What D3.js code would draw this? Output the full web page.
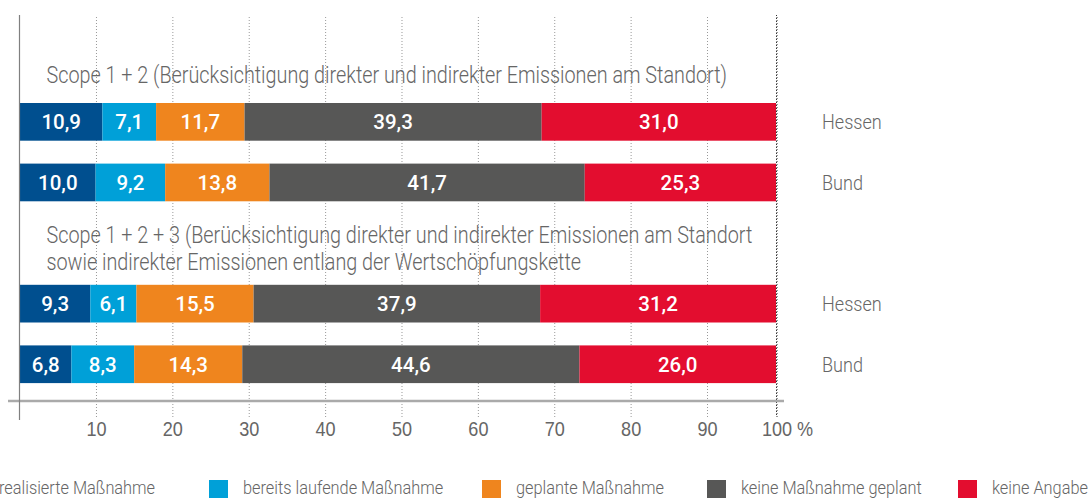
<!DOCTYPE html>
<html>
<head>
<meta charset="utf-8">
<script src="https://cdn.jsdelivr.net/npm/d3@7"></script>
<style>
  body { margin: 0; background: #fff; }
  svg { display: block; font-family: Roboto, "Open Sans", sans-serif; }
  .light { font-weight: 300; fill: #666; }
</style>
</head>
<body>
<svg id="chart" width="1089" height="498"></svg>
<script>
// data
const categories = ['realisierte Maßnahme', 'bereits laufende Maßnahme', 'geplante Maßnahme', 'keine Maßnahme geplant', 'keine Angabe'];
const colors = ['#004f8f', '#00a0d8', '#ef851e', '#575756', '#e30d2f'];
const rowLabels = ['Hessen', 'Bund', 'Hessen', 'Bund'];
const groupTitles = [
  ['Scope 1 + 2 (Berücksichtigung direkter und indirekter Emissionen am Standort)'],
  ['Scope 1 + 2 + 3 (Berücksichtigung direkter und indirekter Emissionen am Standort',
   'sowie indirekter Emissionen entlang der Wertschöpfungskette']
];
const realisiert  = [10.9, 10.0, 9.3, 6.8];
const laufend     = [7.1, 9.2, 6.1, 8.3];
const geplant     = [11.7, 13.8, 15.5, 14.3];
const keinePlan   = [39.3, 41.7, 37.9, 44.6];
const keineAngabe = [31.0, 25.3, 31.2, 26.0];
const tickValues  = [10, 20, 30, 40, 50, 60, 70, 80, 90, 100];

const series = [realisiert, laufend, geplant, keinePlan, keineAngabe];
const fmt = v => v.toFixed(1).replace('.', ',');

const svg = d3.select('#chart');
const K = 0.86; // horizontal squeeze for the light, narrow text

const condense = sel => sel.each(function() {
  const w = this.getComputedTextLength();
  d3.select(this).attr('textLength', w * K).attr('lengthAdjust', 'spacingAndGlyphs');
});

// scales
const x = d3.scaleLinear().domain([0, 100]).range([20, 776]);
// tick/grid positions in the original are spaced a bit wider than the bars
const xAxisScale = d3.scaleLinear().domain([0, 90, 100]).range([19.6, 707, 776.5]);

const slots = ['t0', 'r0', 'r1', 't1', 'r2', 'r3'];
const y = d3.scaleBand().domain(slots).range([42.4, 383.1]).paddingInner(0.378).paddingOuter(0);
const rowKey = i => 'r' + i;

const plotTop = 15, gridBottom = 417, axisY = 401;

// grid + tick labels
const axis = d3.axisBottom(xAxisScale)
  .tickValues(tickValues)
  .tickFormat(d => d)
  .tickSize(-(gridBottom - plotTop))
  .tickPadding(4);

const axisG = svg.append('g')
  .attr('transform', `translate(0,${gridBottom})`)
  .call(axis);
axisG.select('.domain').remove();
axisG.selectAll('.tick line')
  .attr('stroke', d => d === 100 ? '#333' : '#999')
  .attr('stroke-dasharray', '1,2');
axisG.selectAll('.tick text')
  .attr('class', 'light')
  .attr('font-size', 21)
  .attr('fill', '#666')
  .call(condense);
axisG.selectAll('.tick').filter(d => d === 100).each(function() {
  const t = d3.select(this).select('text');
  const w = t.node().getComputedTextLength();
  d3.select(this).append('text')
    .attr('class', 'light')
    .attr('text-anchor', 'start')
    .attr('x', w / 2 + 5)
    .attr('y', t.attr('y'))
    .attr('dy', t.attr('dy'))
    .attr('font-size', 21)
    .attr('fill', '#666')
    .text('%')
    .call(condense);
});

// bars
const rows = rowLabels.map((label, i) => {
  let acc = 0;
  return series.map((s, c) => {
    const seg = {row: i, cat: c, x0: acc, x1: acc + s[i], value: s[i]};
    acc += s[i];
    return seg;
  });
}).flat();

svg.append('g').selectAll('rect')
  .data(rows)
  .join('rect')
  .attr('x', d => x(d.x0))
  .attr('y', d => y(rowKey(d.row)))
  .attr('width', d => x(d.x1) - x(d.x0))
  .attr('height', y.bandwidth())
  .attr('fill', d => colors[d.cat]);

svg.append('g').selectAll('text')
  .data(rows)
  .join('text')
  .attr('x', d => (x(d.x0) + x(d.x1)) / 2)
  .attr('y', d => y(rowKey(d.row)) + y.bandwidth() / 2)
  .attr('dy', '0.36em')
  .attr('text-anchor', 'middle')
  .attr('fill', '#fff')
  .attr('font-size', 20.5)
  .attr('font-weight', 500)
  .text(d => fmt(d.value));

// redraw the 100 % dotted line above the bar ends
svg.append('line')
  .attr('x1', xAxisScale(100)).attr('x2', xAxisScale(100))
  .attr('y1', plotTop).attr('y2', gridBottom)
  .attr('stroke', '#333').attr('stroke-dasharray', '1,2');

// row labels on the right
svg.append('g').selectAll('text')
  .data(rowLabels)
  .join('text')
  .attr('class', 'light')
  .attr('x', 822)
  .attr('y', (d, i) => y(rowKey(i)) + y.bandwidth() / 2)
  .attr('dy', '0.36em')
  .attr('font-size', 21)
  .text(d => d)
  .call(condense);

// group titles
const titleOffsets = [41, 19];
groupTitles.forEach((lines, g) => {
  svg.append('g').selectAll('text')
    .data(lines)
    .join('text')
    .attr('class', 'light')
    .attr('x', 46.5)
    .attr('y', (d, j) => y('t' + g) + titleOffsets[g] + j * 27)
    .attr('font-size', 23)
    .text(d => d)
    .call(condense);
});

// axes lines
svg.append('line')
  .attr('x1', 8).attr('x2', 784)
  .attr('y1', axisY).attr('y2', axisY)
  .attr('stroke', '#aaa').attr('stroke-width', 2.5);
svg.append('line')
  .attr('x1', 19.5).attr('x2', 19.5)
  .attr('y1', plotTop).attr('y2', 420)
  .attr('stroke', '#808080').attr('stroke-width', 1.2);

// legend
const legendX = [-35, 209, 482, 707, 958];
const legend = svg.append('g').selectAll('g')
  .data(categories)
  .join('g')
  .attr('transform', (d, i) => `translate(${legendX[i]},480)`);
legend.append('rect')
  .attr('width', 19).attr('height', 19)
  .attr('fill', (d, i) => colors[i]);
legend.append('text')
  .attr('class', 'light')
  .attr('x', 34)
  .attr('y', 14)
  .attr('font-size', 19)
  .text(d => d)
  .call(condense);
</script>
</body>
</html>
